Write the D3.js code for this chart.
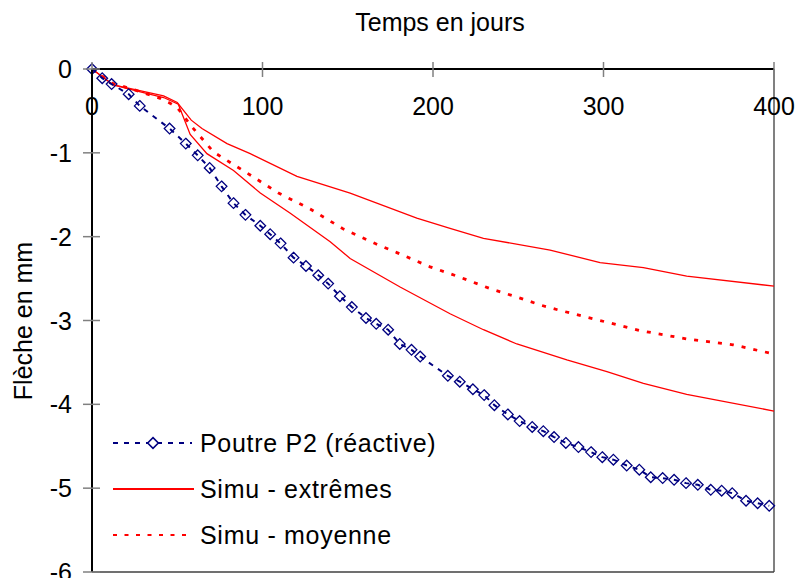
<!DOCTYPE html>
<html>
<head>
<meta charset="utf-8">
<script src="https://cdn.jsdelivr.net/npm/d3@7"></script>
<style>
  html, body { margin: 0; padding: 0; background: #fff; }
  svg text { font-family: Arial, "Liberation Sans", sans-serif; fill: #000; }
</style>
</head>
<body>
<svg id="chart" width="797" height="578"></svg>
<script>
// ---- Data ----
const xTicks = [0, 100, 200, 300, 400];
const yTicks = [0, -1, -2, -3, -4, -5, -6];
const xTitle = "Temps en jours";
const yTitle = "Flèche en mm";
const seriesNames = ["Poutre P2 (réactive)", "Simu - extrêmes", "Simu - moyenne"];

const poutreDays = [0, 6, 11.5, 21.5, 28, 45.5, 55, 62, 69, 76, 83, 90, 98.7, 104.5, 110.6, 118.2, 125.5, 132.7, 138.5, 145.4, 152.4, 160.7, 166.7, 173.7, 180.5, 187.4, 192.5, 208.7, 215.7, 223.4, 230, 236, 243.9, 250.8, 258.2, 264.7, 271, 277.9, 285.3, 292.7, 299.3, 305.8, 313.6, 321, 327.7, 334.7, 341.4, 348.4, 355.3, 362.9, 369.3, 375.5, 383.6, 390.4, 397.2];
const poutreVals = [0, -0.11, -0.18, -0.30, -0.44, -0.71, -0.89, -1.03, -1.18, -1.40, -1.60, -1.74, -1.87, -1.97, -2.08, -2.25, -2.35, -2.46, -2.56, -2.71, -2.84, -2.97, -3.04, -3.11, -3.28, -3.35, -3.43, -3.66, -3.73, -3.82, -3.89, -4.01, -4.12, -4.20, -4.27, -4.32, -4.39, -4.46, -4.51, -4.57, -4.63, -4.66, -4.73, -4.78, -4.87, -4.88, -4.90, -4.94, -4.96, -5.02, -5.03, -5.06, -5.15, -5.18, -5.21];

const simuHautDays = [0, 12.5, 26, 42, 50, 58.2, 64.5, 79.2, 92.8, 120.2, 151.4, 190.5, 210, 229.6, 268.7, 298, 323.4, 348.8, 400];
const simuHautVals = [0, -0.19, -0.25, -0.32, -0.40, -0.61, -0.71, -0.89, -1.01, -1.28, -1.48, -1.78, -1.90, -2.02, -2.16, -2.31, -2.37, -2.47, -2.59];

const simuBasDays = [0, 12.5, 26, 42, 50.6, 57.6, 67.4, 83, 98.7, 116.3, 139.7, 151.4, 180.7, 210, 229.6, 249.2, 278.5, 302, 323.4, 348.8, 400];
const simuBasVals = [0, -0.19, -0.26, -0.34, -0.42, -0.78, -1.01, -1.21, -1.48, -1.72, -2.06, -2.26, -2.60, -2.92, -3.11, -3.28, -3.47, -3.61, -3.75, -3.88, -4.08];

const moyDays = [0, 12, 25, 40, 46, 50, 58.6, 71.3, 90.9, 109.4, 128, 147.5, 167, 178.8, 198.3, 214, 233.5, 249.2, 263.8, 274.5, 298, 321.4, 348.8, 376, 400];
const moyVals = [0, -0.17, -0.25, -0.35, -0.41, -0.46, -0.69, -0.99, -1.24, -1.48, -1.67, -1.91, -2.09, -2.19, -2.36, -2.47, -2.62, -2.72, -2.82, -2.88, -3.00, -3.12, -3.22, -3.29, -3.40];

// ---- Chart ----
const svg = d3.select("#chart");
const plot = { left: 92, right: 774, top: 69, bottom: 572 };
const x = d3.scaleLinear().domain([0, 400]).range([plot.left, plot.right]);
const y = d3.scaleLinear().domain([0, -6]).range([plot.top, plot.bottom]);

const navy = "#000080", red = "#ff0000";

// plot border (right & bottom)
svg.append("line").attr("x1", x(400)).attr("x2", x(400)).attr("y1", y(0)).attr("y2", y(-6))
  .attr("stroke", "#808080").attr("stroke-width", 2);
svg.append("line").attr("x1", x(0)).attr("x2", x(400)).attr("y1", y(-6)).attr("y2", y(-6))
  .attr("stroke", "#404040").attr("stroke-width", 1.5);

const zip = (a, b) => a.map((d, i) => [d, b[i]]);
const line = d3.line().x(d => x(d[0])).y(d => y(d[1]));

// Simu - extrêmes
[zip(simuHautDays, simuHautVals), zip(simuBasDays, simuBasVals)].forEach(s => {
  svg.append("path").datum(s).attr("d", line).attr("fill", "none")
    .attr("stroke", red).attr("stroke-width", 1.3);
});
// Simu - moyenne
svg.append("path").datum(zip(moyDays, moyVals)).attr("d", line).attr("fill", "none")
  .attr("stroke", red).attr("stroke-width", 2.8).attr("stroke-dasharray", "4,8");

// Poutre
const poutre = zip(poutreDays, poutreVals);
svg.append("path").datum(poutre).attr("d", line).attr("fill", "none")
  .attr("stroke", navy).attr("stroke-width", 2).attr("stroke-dasharray", "5,6");
const diamond = d3.symbol().type(d3.symbolDiamond2).size(72);
svg.append("g").selectAll("path").data(poutre).join("path")
  .attr("d", diamond)
  .attr("transform", d => `translate(${x(d[0])},${y(d[1])})`)
  .attr("fill", "none").attr("stroke", navy).attr("stroke-width", 1.3);

// Axes
const xAxis = svg.append("g");
xAxis.append("line").attr("x1", x(0)).attr("x2", x(400)).attr("y1", y(0)).attr("y2", y(0))
  .attr("stroke", "#000").attr("stroke-width", 2);
xAxis.selectAll("line.tick").data(xTicks).join("line").attr("class", "tick")
  .attr("x1", d => x(d)).attr("x2", d => x(d)).attr("y1", y(0) - 7).attr("y2", y(0) + 8)
  .attr("stroke", "#808080").attr("stroke-width", 1.5);
xAxis.selectAll("text").data(xTicks).join("text")
  .attr("x", d => x(d)).attr("y", y(0) + 46).attr("text-anchor", "middle")
  .attr("font-size", 25).text(d => d);

const yAxis = svg.append("g");
yAxis.append("line").attr("x1", x(0)).attr("x2", x(0)).attr("y1", y(0)).attr("y2", y(-6))
  .attr("stroke", "#000").attr("stroke-width", 2);
yAxis.selectAll("line.tick").data(yTicks).join("line").attr("class", "tick")
  .attr("x1", x(0) - 9).attr("x2", x(0) + 8).attr("y1", d => y(d)).attr("y2", d => y(d))
  .attr("stroke", "#808080").attr("stroke-width", 1.5);
yAxis.selectAll("text").data(yTicks).join("text")
  .attr("x", x(0) - 20).attr("y", d => y(d) + 9).attr("text-anchor", "end")
  .attr("font-size", 25).text(d => d);

// Titles
svg.append("text").attr("x", 440).attr("y", 31).attr("text-anchor", "middle")
  .attr("font-size", 25).text(xTitle);
svg.append("text").attr("transform", "translate(32,321) rotate(-90)")
  .attr("text-anchor", "middle").attr("font-size", 25).text(yTitle);

// Legend
const lg = svg.append("g");
const rows = [443, 489, 535];
lg.append("line").attr("x1", 113).attr("x2", 192).attr("y1", rows[0]).attr("y2", rows[0])
  .attr("stroke", navy).attr("stroke-width", 2).attr("stroke-dasharray", "5,6");
lg.append("path").attr("d", diamond).attr("transform", `translate(153,${rows[0]})`)
  .attr("fill", "#fff").attr("stroke", navy).attr("stroke-width", 1.6);
lg.append("line").attr("x1", 113).attr("x2", 194).attr("y1", rows[1]).attr("y2", rows[1])
  .attr("stroke", red).attr("stroke-width", 2);
lg.append("line").attr("x1", 113).attr("x2", 192).attr("y1", rows[2]).attr("y2", rows[2])
  .attr("stroke", red).attr("stroke-width", 2).attr("stroke-dasharray", "4,7.5");
lg.selectAll("text").data(seriesNames).join("text")
  .attr("x", 200).attr("y", (d, i) => rows[i] + 9).attr("font-size", 25)
  .attr("letter-spacing", 0.7).text(d => d);
</script>
</body>
</html>
